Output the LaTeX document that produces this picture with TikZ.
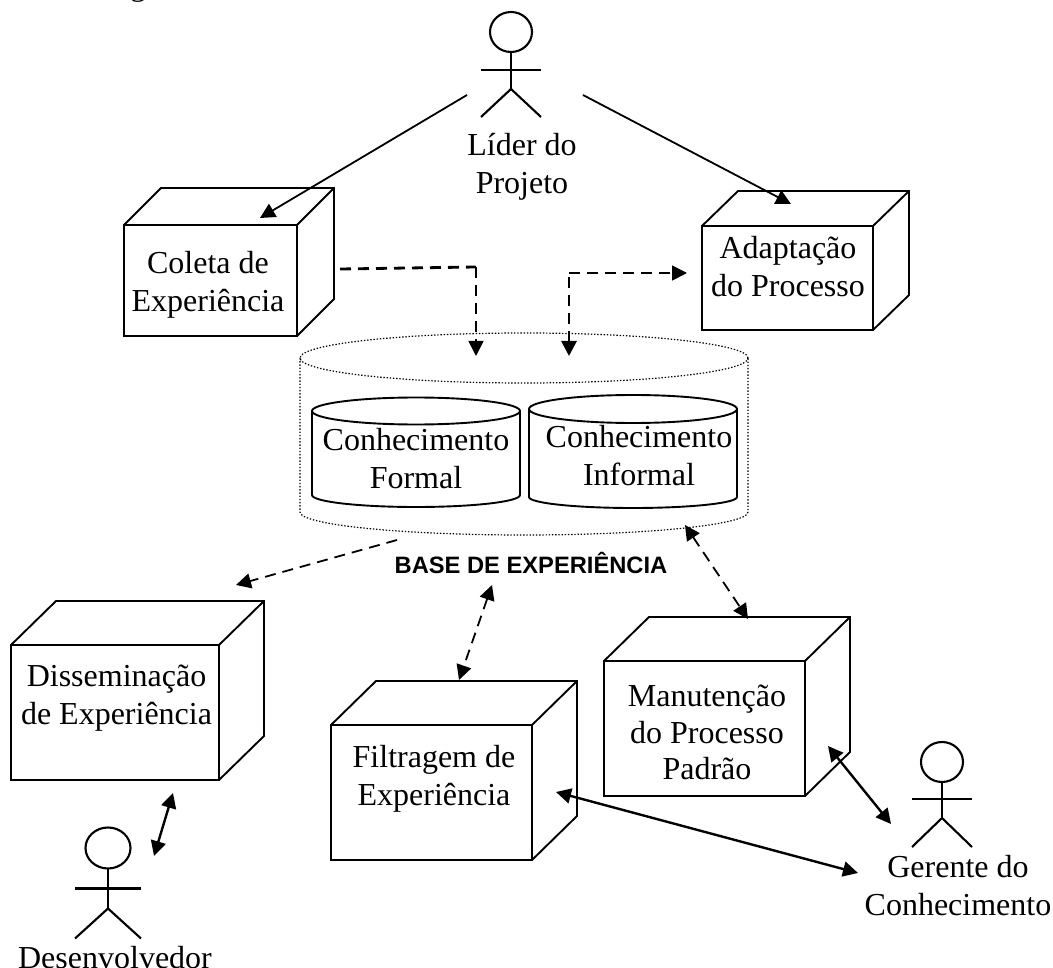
\documentclass[tikz,border=0pt]{standalone}
\usepackage{fontspec}
\setmainfont{Liberation Serif}
\setsansfont{Liberation Sans}
\usetikzlibrary{arrows.meta,shapes.geometric,calc}
\tikzset{
  x=1pt,y=-1pt,
  cubeface/.style={draw,line width=1.9pt,inner sep=0pt,outer sep=0pt},
  cubeedge/.style={line width=1.9pt,line join=miter},
  actorline/.style={line width=2.1pt},
  actorhead/.style={draw,ellipse,line width=2.1pt,inner sep=0pt,outer sep=0pt},
  cylsolid/.style={draw,ellipse,line width=1.9pt,inner sep=0pt,outer sep=0pt},
  cyldotted/.style={draw,ellipse,line width=1.2pt,dash pattern=on 1.4pt off 1.8pt,inner sep=0pt,outer sep=0pt},
  edgesolid/.style={line width=1.9pt},
  edgedotted/.style={line width=1.2pt,dash pattern=on 1.4pt off 1.8pt},
  label/.style={font=\fontsize{32}{38}\selectfont,align=center,inner sep=0pt,outer sep=0pt,
    execute at begin node=\strut,execute at end node=\strut},
  baselabel/.style={font=\sffamily\bfseries\fontsize{23.7}{28}\selectfont,inner sep=0pt,anchor=base},
  tip/.style={-{Triangle[length=15pt,width=15pt]}},
  biptip/.style={{Triangle[length=15pt,width=15pt]}-{Triangle[length=15pt,width=15pt]}},
  conn/.style={line width=1.8pt},
  connthick/.style={line width=2.4pt},
  dashthin/.style={line width=1.8pt,dash pattern=on 11pt off 7pt},
  dashthick/.style={line width=2.8pt,dash pattern=on 11pt off 7pt},
}
% name, x1, y1, x2, y2, depth x, depth y
\newcommand{\cubeshape}[7]{%
  \pgfmathsetmacro\cubew{#4-#2}\pgfmathsetmacro\cubeh{#5-#3}
  \node[cubeface,minimum width=\cubew pt,minimum height=\cubeh pt,anchor=north west] (#1) at (#2,#3) {};
  \draw[cubeedge] (#1.north west) -- ++(#6,-#7) -- ++(\cubew,0) -- ++(0,\cubeh) -- (#1.south east);
  \draw[cubeedge] (#1.north east) -- ++(#6,-#7);
}
% name, x, head centre y, head w, head h, arm dy, half span, hip dy, leg dy
\newcommand{\actorshape}[9]{%
  \node[actorhead,minimum width=#4pt,minimum height=#5pt] (#1) at (#2,#3) {};
  \draw[actorline] (#1.south) -- ++(0,#8) coordinate (#1-hip);
  \draw[actorline] (#1-hip) -- ++(-#7,#9);
  \draw[actorline] (#1-hip) -- ++(#7,#9);
  \draw[actorline] ($(#1.south)+(-#7,#6)$) -- ($(#1.south)+(#7,#6)$);
}
% style, name, centre x, top y, width, top height, side height, bottom bulge
\newcommand{\cylshape}[8]{%
  \pgfmathsetmacro\cylrx{#5/2}\pgfmathsetmacro\cylkx{.5523*#5/2}\pgfmathsetmacro\cylky{.5523*#8}
  \node[cyl#1,minimum width=#5pt,minimum height=#6pt] (#2) at (#3,#4) {};
  \draw[edge#1] (#2.west) -- ++(0,#7)
    .. controls +(0,\cylky) and +(-\cylkx,0) .. ++(\cylrx,#8)
    .. controls +(\cylkx,0) and +(0,\cylky) .. ++(\cylrx,-#8) -- (#2.east);
}
\begin{document}
\begin{tikzpicture}
\useasboundingbox (0,0) rectangle (1053,968);
\node[label] (cutline) at (138,-11.6) {g};

% cubes
\cubeshape{coleta}{124}{225}{297}{336}{37}{37}
\cubeshape{adapt}{702}{226}{873}{330}{36}{35}
\cubeshape{dissem}{11}{645}{219}{780}{45}{44}
\cubeshape{filtra}{331}{725}{532}{860}{45}{44}
\cubeshape{manut}{604}{661}{805}{796}{45}{44}

% actors
\actorshape{lider}{511}{32}{42}{40}{18}{30}{37}{28}
\actorshape{desenv}{108}{848}{45}{41}{20}{33}{40}{30}
\actorshape{gerente}{942}{762}{42}{40}{17}{30}{36}{29}

% cylinders
\cylshape{dotted}{base}{524}{358}{448}{50}{154}{23}
\cylshape{solid}{formal}{416}{411}{208}{27}{84}{12}
\cylshape{solid}{informal}{633}{409}{208}{28}{88}{11}

% labels
\node[label] (tlider) at (522,168.9) {Líder do\\Projeto};
\node[label] (tcoleta) at (208,287.4) {Coleta de\\Experiência};
\node[label] (tadapt) at (788,272.2) {Adaptação\\do Processo};
\node[label] (tdissem) at (116.5,700.9) {Disseminação\\de Experiência};
\node[label] (tfiltra) at (434,780.6) {Filtragem de\\Experiência};
\node[label] (tmanut) at (707,738.2) {Manutenção\\[-1.5pt]do Processo\\[-1.5pt]Padrão};
\node[label] (tformal) at (416,464.4) {Conhecimento\\Formal};
\node[label] (tinformal) at (639,461.2) {Conhecimento\\Informal};
\node[label] (tgerente) at (958,891.2) {Gerente do\\Conhecimento};
\node[label] (tdesenv) at (115,960.4) {Desenvolvedor};
\node[baselabel] (tbase) at (531,573) {BASE DE EXPERIÊNCIA};

% connector ends
\coordinate (a1) at (467,95);   \coordinate (a2) at (260,218);
\coordinate (b1) at (583,95);   \coordinate (b2) at (791,204);
\coordinate (c1) at (340,269);  \coordinate (c2) at (476,267);  \coordinate (c3) at (476,356);
\coordinate (d1) at (569,356);  \coordinate (d2) at (569,273);  \coordinate (d3) at (687,273);
\coordinate (e1) at (397,540);  \coordinate (e2) at (236,585);
\coordinate (f1) at (492,585);  \coordinate (f2) at (459,680);
\coordinate (g1) at (685,525);  \coordinate (g2) at (748,619);
\coordinate (h1) at (173,793);  \coordinate (h2) at (154,856);
\coordinate (i1) at (556,792);  \coordinate (i2) at (858,873);
\coordinate (j1) at (828,746);  \coordinate (j2) at (891,824);

% connectors
\draw[conn,tip] (a1) -- (a2);
\draw[conn,tip] (b1) -- (b2);
\draw[dashthick] (c1) -- (c2);
\draw[dashthin,tip] (c2) -- (c3);
\draw[dashthick,{Triangle[length=15pt,width=15pt]}-] (d1) -- (d2);
\draw[dashthin,tip] (d2) -- (d3);
\draw[dashthin,tip] (e1) -- (e2);
\draw[dashthin,biptip] (f1) -- (f2);
\draw[dashthin,biptip] (g1) -- (g2);
\draw[connthick,biptip] (h1) -- (h2);
\draw[connthick,biptip] (i1) -- (i2);
\draw[connthick,biptip] (j1) -- (j2);
\end{tikzpicture}
\end{document}
